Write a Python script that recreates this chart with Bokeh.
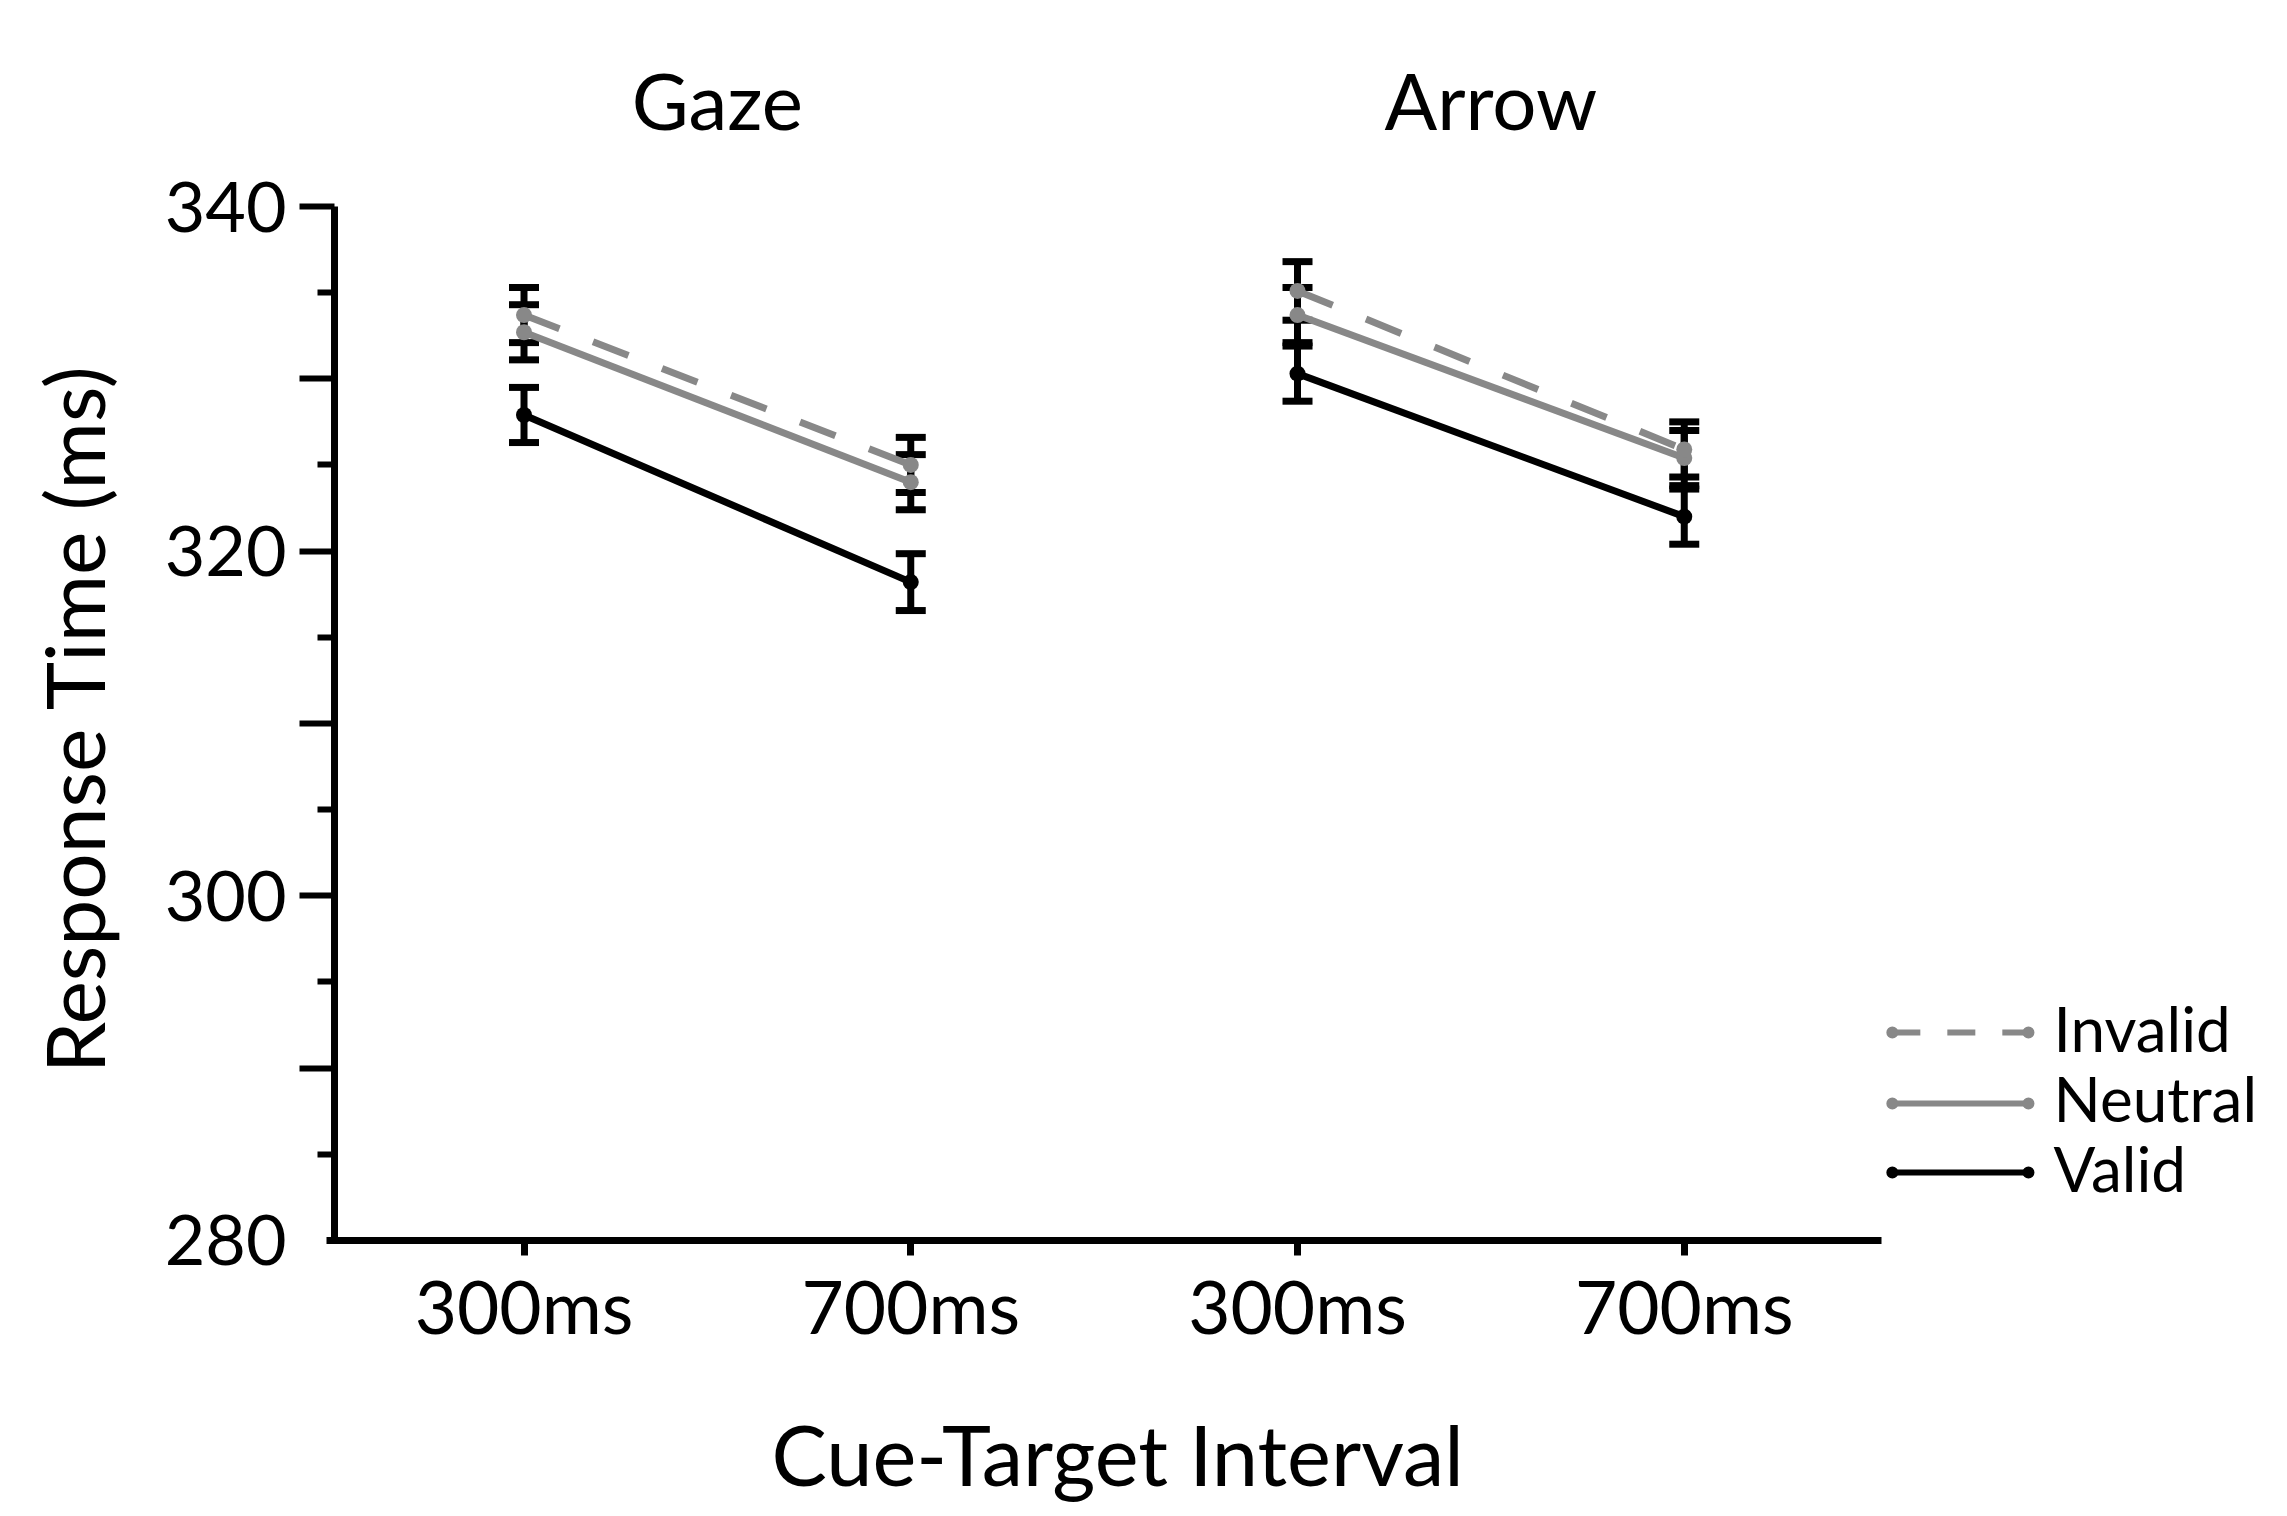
import math
from bokeh.plotting import figure
from bokeh.models import Range1d, FixedTicker, Whisker, TeeHead, ColumnDataSource, LinearAxis
from bokeh.core.properties import value
from bokeh.embed import file_html
from bokeh.resources import INLINE

# ---------------- data ----------------
cue_types = ["Gaze", "Arrow"]
x_pos = [1, 2, 3, 4]
tick_labels = ["300ms", "700ms", "300ms", "700ms"]
conditions = ["Invalid", "Neutral", "Valid"]

invalid_mean = [333.7, 325.0, 335.1, 325.9]
invalid_se = [1.6, 1.6, 1.7, 1.6]
neutral_mean = [332.7, 324.0, 333.7, 325.4]
neutral_se = [1.6, 1.6, 1.6, 1.6]
valid_mean = [327.9, 318.2, 330.3, 322.0]
valid_se = [1.6, 1.65, 1.6, 1.6]

y_major_ticks = [290, 300, 310, 320, 330, 340]
y_minor_ticks = [285, 295, 305, 315, 325, 335]
y_tick_labels = {290: "", 300: "300", 310: "", 320: "320", 330: "", 340: "340"}
y_bottom_label = {280: "280"}

x_axis_title = "Cue-Target Interval"
y_axis_title = "Response Time (ms)"

# ---------------- styles / layout ----------------
FONT = "Lato"
GRAY = "#888888"
styles = {
    "Invalid": dict(color=GRAY, dash="38 36", leg_dash="28 27"),
    "Neutral": dict(color=GRAY, dash="solid", leg_dash="solid"),
    "Valid": dict(color="black", dash="solid", leg_dash="solid"),
}
series = {
    "Invalid": (invalid_mean, invalid_se),
    "Neutral": (neutral_mean, neutral_se),
    "Valid": (valid_mean, valid_se),
}

W, H = 2270, 1508
PX_PER_X = 386.75      # pixels per x unit
PX_PER_Y = 17.23       # pixels per ms
AX_X, AX_Y = 0.51, 280  # where the axes sit
AX_LEFT_PX, AX_TOP_PX = 334, 206  # pixel position of x=0.51 and y=340

x_start = AX_X - AX_LEFT_PX / PX_PER_X
y_end = 340 + AX_TOP_PX / PX_PER_Y

p = figure(
    frame_width=W, frame_height=H,
    min_border=0,
    x_range=Range1d(x_start, x_start + W / PX_PER_X),
    y_range=Range1d(y_end - H / PX_PER_Y, y_end),
    x_axis_location=None, y_axis_location=None,
    output_backend="svg", toolbar_location=None,
)
p.outline_line_color = None
p.grid.visible = False
p.background_fill_color = "white"
p.border_fill_color = "white"

# x axis
xa = LinearAxis(fixed_location=AX_Y)
xa.ticker = FixedTicker(ticks=x_pos)
xa.major_label_overrides = {x: lab for x, lab in zip(x_pos, tick_labels)}
xa.bounds = (0.49, 4.51)
xa.axis_line_width = 7
xa.axis_line_color = "black"
xa.major_tick_line_width = 7
xa.major_tick_out = 15
xa.major_tick_in = 0
xa.minor_tick_line_color = None
xa.major_label_text_font = FONT
xa.major_label_text_font_size = "73px"
xa.major_label_text_color = "black"
xa.major_label_standoff = 7
p.add_layout(xa, "below")

# y axis
ya = LinearAxis(fixed_location=AX_X)
ya.ticker = FixedTicker(ticks=y_major_ticks, minor_ticks=y_minor_ticks)
ya.major_label_overrides = y_tick_labels
ya.bounds = (280, 340)
ya.axis_line_width = 7
ya.axis_line_color = "black"
ya.major_tick_line_width = 6
ya.major_tick_out = 35
ya.major_tick_in = 0
ya.minor_tick_line_width = 6
ya.minor_tick_out = 17
ya.minor_tick_in = 0
ya.major_label_text_font = FONT
ya.major_label_text_font_size = "70px"
ya.major_label_text_color = "black"
ya.major_label_standoff = 13
p.add_layout(ya, "left")

# label for the bottom value (no tick mark at the corner)
ya0 = LinearAxis(fixed_location=AX_X)
ya0.ticker = FixedTicker(ticks=list(y_bottom_label.keys()), minor_ticks=[])
ya0.major_label_overrides = y_bottom_label
ya0.axis_line_color = None
ya0.major_tick_line_color = None
ya0.minor_tick_line_color = None
ya0.major_tick_out = 35
ya0.major_tick_in = 0
ya0.major_label_text_font = FONT
ya0.major_label_text_font_size = "70px"
ya0.major_label_text_color = "black"
ya0.major_label_standoff = 13
p.add_layout(ya0, "left")

# axis titles
p.text([2.535], [267.57], text=[x_axis_title], text_font=value(FONT),
       text_font_size=value("83px"), text_align="center", text_baseline="middle",
       text_color="black")
p.text([-0.166], [310.28], text=[y_axis_title], text_font=value(FONT),
       text_font_size=value("82px"), text_align="center", text_baseline="middle",
       angle=math.pi / 2, text_color="black")

# error bars (below the points)
for cond in ["Valid", "Neutral", "Invalid"]:
    m, se = series[cond]
    src = ColumnDataSource(dict(
        x=x_pos,
        upper=[a + b for a, b in zip(m, se)],
        lower=[a - b for a, b in zip(m, se)],
    ))
    w = Whisker(
        base="x", upper="upper", lower="lower", source=src,
        line_color="black", line_width=7, level="underlay",
        upper_head=TeeHead(size=30, line_width=7, line_color="black"),
        lower_head=TeeHead(size=30, line_width=7, line_color="black"),
    )
    p.add_layout(w)

# lines and points, one segment per cue type
for cond in ["Valid", "Neutral", "Invalid"]:
    m, se = series[cond]
    st = styles[cond]
    for g in range(len(cue_types)):
        xs = x_pos[2 * g:2 * g + 2]
        ys = m[2 * g:2 * g + 2]
        p.line(xs, ys, line_color=st["color"], line_width=7, line_dash=st["dash"])
    p.scatter(x_pos, m, size=16, fill_color=st["color"], line_color=None)

# panel titles
title_x = [(x_pos[2 * g] + x_pos[2 * g + 1]) / 2 for g in range(len(cue_types))]
p.text(title_x, [346.21] * len(cue_types), text=cue_types, text_font=value(FONT),
       text_font_size=value("78px"), text_align="center", text_baseline="middle",
       text_color="black")

# legend (line with dots at both ends)
LEG_X0, LEG_X1, LEG_TX = 4.538, 4.890, 4.955
LEG_Y = [292.06, 287.94, 283.93]
for cond, ly in zip(conditions, LEG_Y):
    st = styles[cond]
    p.line([LEG_X0, LEG_X1], [ly, ly], line_color=st["color"], line_width=6,
           line_dash=st["leg_dash"])
    p.scatter([LEG_X0, LEG_X1], [ly, ly], size=12, fill_color=st["color"], line_color=None)
    p.text([LEG_TX], [ly + 0.29], text=[cond], text_font=value(FONT),
           text_font_size=value("62px"), text_baseline="middle", text_align="left",
           text_color="black")

open("out.html", "w").write(file_html(p, INLINE))
